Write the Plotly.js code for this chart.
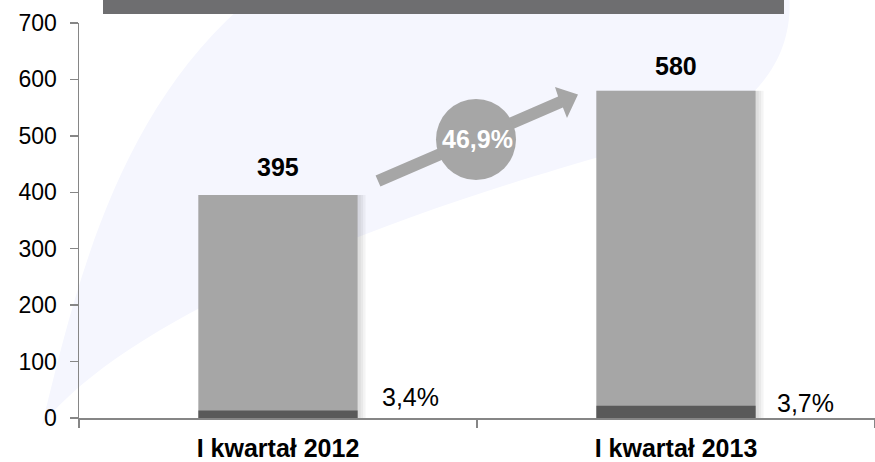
<!DOCTYPE html>
<html>
<head>
<meta charset="utf-8">
<script src="https://cdn.plot.ly/plotly-3.0.1.min.js"></script>
<style>html,body{margin:0;padding:0;background:#fff;}#chart{width:875px;height:462px;}</style>
</head>
<body>
<div id="chart"></div>
<script>
// ---- data ----
var categories = ['I kwartał 2012', 'I kwartał 2013'];
var totals = [395, 580];
var darkPart = [13.4, 21.5];
var shareLabels = ['3,4%', '3,7%'];
var growthLabel = '46,9%';
var yTicks = [0, 100, 200, 300, 400, 500, 600, 700];

// ---- geometry helpers for decorative shapes (pixel -> paper) ----
var ML = 79, MT = 23, MB = 44, W = 875, H = 462;
var PW = W - ML, PH = H - MT - MB;
function px(x) { return (x - ML) / PW; }
function py(y) { return (MT + PH - y) / PH; }
function P(x, y) { return px(x).toFixed(5) + ',' + py(y).toFixed(5); }

var FONT = '"Liberation Sans", Arial, sans-serif';
var BW = 0.4;

var traces = [];
[0.02, 0.014, 0.008].forEach(function (extra) {
  traces.push({ type: 'bar', x: categories, y: totals, width: BW + extra, offset: -BW / 2,
    marker: { color: 'rgba(0,0,0,0.045)' }, hoverinfo: 'skip', showlegend: false });
});
traces.push({ type: 'bar', name: 'total', x: categories, y: totals, width: BW, offset: -BW / 2,
  marker: { color: '#a6a6a6' }, showlegend: false });
traces.push({ type: 'bar', name: 'part', x: categories, y: darkPart, width: BW, offset: -BW / 2,
  marker: { color: '#595959' }, showlegend: false });

// arrow geometry (decorative)
var arrowPath = 'M' + P(375.6, 175.5) + ' L' + P(558.1, 96.6) + ' L' + P(555, 87) +
  ' L' + P(578, 94.5) + ' L' + P(567, 118) + ' L' + P(562.9, 107.6) +
  ' L' + P(380.4, 186.5) + ' Z';

var swoosh = 'M' + P(42, 425) +
  ' C' + P(75, 290) + ' ' + P(115, 120) + ' ' + P(240, 8) +
  ' L' + P(300, -30) + ' L' + P(785, -30) +
  ' C' + P(800, 30) + ' ' + P(780, 90) + ' ' + P(700, 130) +
  ' C' + P(500, 180) + ' ' + P(150, 290) + ' ' + P(42, 425) + ' Z';

var shapes = [
  { type: 'path', xref: 'paper', yref: 'paper', path: swoosh, fillcolor: '#f5f6fe',
    line: { width: 0 }, layer: 'below' },
  { type: 'rect', xref: 'paper', yref: 'paper', x0: px(103), x1: px(784), y0: py(14), y1: py(-3),
    fillcolor: '#6e6e70', line: { width: 0 }, layer: 'above' },
  { type: 'path', xref: 'paper', yref: 'paper', path: arrowPath, fillcolor: '#a6a6a6',
    line: { width: 0 }, layer: 'above' },
  { type: 'circle', xref: 'paper', yref: 'paper', x0: px(436), x1: px(516), y0: py(180), y1: py(99),
    fillcolor: '#a6a6a6', line: { width: 0 }, layer: 'above' }
];

var annotations = [];
categories.forEach(function (c, i) {
  annotations.push({ x: c, y: totals[i], xref: 'x', yref: 'y', text: String(totals[i]),
    showarrow: false, xanchor: 'center', yanchor: 'middle', yshift: i === 0 ? 28 : 25,
    font: { family: FONT, size: 25, color: '#000', weight: 'bold' } });
  annotations.push({ x: c, y: 0, xref: 'x', yref: 'y', text: shareLabels[i],
    showarrow: false, xanchor: 'left', yanchor: 'middle', xshift: i === 0 ? 102 : 99,
    yshift: i === 0 ? 21 : 15,
    font: { family: FONT, size: 25, color: '#000' } });
});
annotations.push({ x: px(477), y: py(139), xref: 'paper', yref: 'paper', text: growthLabel,
  showarrow: false, xanchor: 'center', yanchor: 'middle',
  font: { family: FONT, size: 25, color: '#fff', weight: 'bold' } });

var layout = {
  width: W, height: H,
  margin: { l: ML, r: 0, t: MT, b: MB, pad: 0 },
  paper_bgcolor: '#fff', plot_bgcolor: 'rgba(0,0,0,0)',
  barmode: 'overlay',
  showlegend: false,
  font: { family: FONT, color: '#000' },
  xaxis: {
    type: 'category', range: [-0.5, 1.5], showline: true, linecolor: '#868686', linewidth: 1.5,
    ticks: 'outside', tickson: 'boundaries', ticklen: 8, tickcolor: '#868686', tickwidth: 1.5,
    showgrid: false, zeroline: false,
    tickfont: { family: FONT, size: 25, color: '#000', weight: 'bold' },
    ticklabelstandoff: 7
  },
  yaxis: {
    range: [0, 700], tickvals: yTicks, showline: true, linecolor: '#868686', linewidth: 1.5,
    ticks: 'outside', ticklen: 8, tickcolor: '#868686', tickwidth: 1.5,
    showgrid: false, zeroline: false,
    tickfont: { family: FONT, size: 23, color: '#000' },
    ticklabelstandoff: 8
  },
  shapes: shapes,
  annotations: annotations
};

Plotly.newPlot('chart', traces, layout, { displayModeBar: false, staticPlot: true });
</script>
</body>
</html>
